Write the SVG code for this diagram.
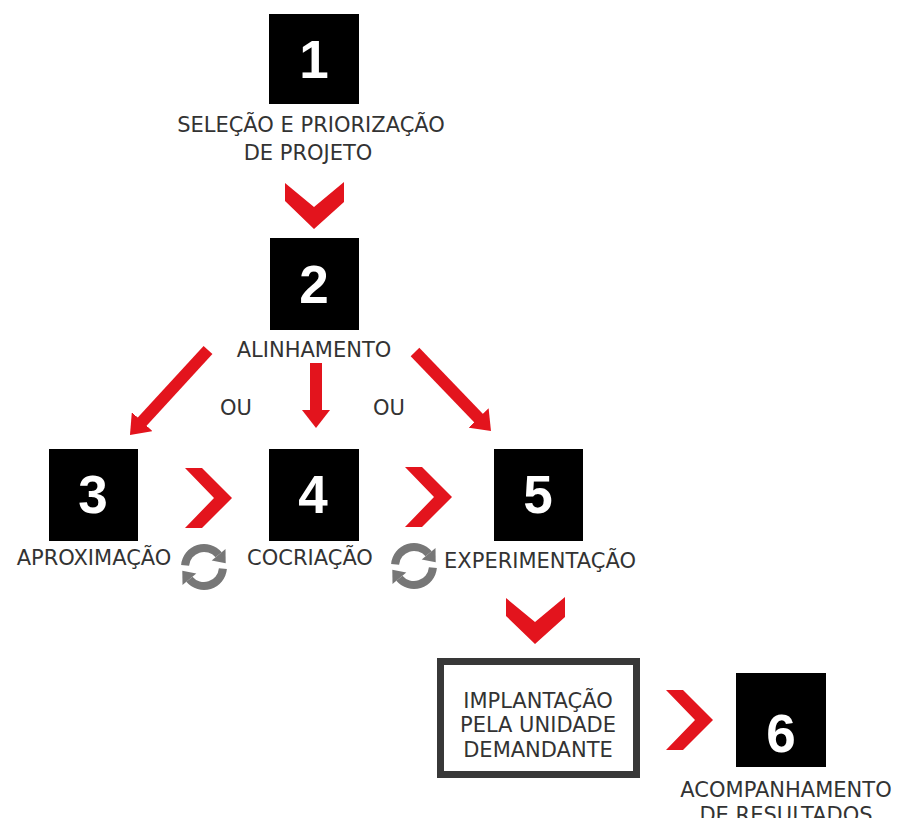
<svg xmlns="http://www.w3.org/2000/svg" xmlns:xlink="http://www.w3.org/1999/xlink" width="899" height="818" viewBox="0 0 899 818">
<style>
.box{fill:#000}
.num{font-family:"Liberation Sans",Arial,sans-serif;font-weight:bold;font-size:53px;fill:#fff;text-anchor:middle}
.lbl{font-family:"DejaVu Sans",Verdana,sans-serif;font-size:21px;fill:#333;text-anchor:middle}
.red{fill:#e3141d}
.shaft{stroke:#e3141d;stroke-width:12;fill:none}
.cyc{stroke:#777;stroke-width:8;fill:none}
.cych{fill:#777}
</style>
<defs>
<polygon id="chevDown" class="red" points="0,1 29,25 59,0 59,20 29,47 0,19"/>
<polygon id="chevRight" class="red" points="0,0 17,0 47,30 17,60 0,60 29,30"/>
<g id="cycle">
<path class="cyc" d="M-18.9,-1.7 A19,19 0 0 1 14.6,-12.2"/>
<polygon class="cych" points="21.5,-18.0 7.7,-6.4 21.7,-3.8"/>
<path class="cyc" d="M18.9,1.7 A19,19 0 0 1 -14.6,12.2"/>
<polygon class="cych" points="-21.5,18.0 -7.7,6.4 -21.7,3.8"/>
</g>
<marker id="ah" markerUnits="userSpaceOnUse" markerWidth="18" markerHeight="28" viewBox="0 0 18 28" refX="2" refY="14" orient="auto">
<path d="M0,0 L18,14 L0,28 Z" fill="#e3141d"/>
</marker>
</defs>
<rect width="899" height="818" fill="#fff"/>

<g id="connectors">
<use xlink:href="#chevDown" href="#chevDown" transform="translate(285,182)"/>
<line class="shaft" x1="208" y1="350" x2="140.8" y2="423.1" marker-end="url(#ah)"/>
<line class="shaft" x1="316" y1="363" x2="316" y2="412" stroke-width="13" marker-end="url(#ah)"/>
<line class="shaft" x1="415" y1="352" x2="479.9" y2="419.5" marker-end="url(#ah)"/>
<use xlink:href="#chevRight" href="#chevRight" transform="translate(185,468)"/>
<use xlink:href="#chevRight" href="#chevRight" transform="translate(405,467)"/>
<use xlink:href="#chevDown" href="#chevDown" transform="translate(506,597)"/>
<use xlink:href="#chevRight" href="#chevRight" transform="translate(666,690)"/>
<use xlink:href="#cycle" href="#cycle" transform="translate(204,567)"/>
<use xlink:href="#cycle" href="#cycle" transform="translate(414,566)"/>
<text class="lbl" x="236" y="415">OU</text>
<text class="lbl" x="389" y="415">OU</text>
</g>

<g id="node1">
<rect class="box" x="269" y="14" width="90" height="90"/>
<text class="num" x="314" y="78">1</text>
<text class="lbl" x="311" y="132">SELEÇÃO E PRIORIZAÇÃO</text>
<text class="lbl" x="308" y="160">DE PROJETO</text>
</g>

<g id="node2">
<rect class="box" x="270" y="238" width="89" height="92"/>
<text class="num" x="314" y="303">2</text>
<text class="lbl" x="314" y="357">ALINHAMENTO</text>
</g>

<g id="node3">
<rect class="box" x="49" y="449" width="89" height="92"/>
<text class="num" x="93" y="513">3</text>
<text class="lbl" x="94" y="565">APROXIMAÇÃO</text>
</g>

<g id="node4">
<rect class="box" x="269" y="449" width="90" height="92"/>
<text class="num" x="313" y="513">4</text>
<text class="lbl" x="310" y="565">COCRIAÇÃO</text>
</g>

<g id="node5">
<rect class="box" x="494" y="449" width="89" height="92"/>
<text class="num" x="538" y="513">5</text>
<text class="lbl" x="540" y="568">EXPERIMENTAÇÃO</text>
</g>

<g id="implantacao">
<rect x="440.5" y="661.5" width="196" height="113" fill="#fff" stroke="#383838" stroke-width="7"/>
<text class="lbl" x="538" y="708">IMPLANTAÇÃO</text>
<text class="lbl" x="538" y="732">PELA UNIDADE</text>
<text class="lbl" x="538" y="757">DEMANDANTE</text>
</g>

<g id="node6">
<rect class="box" x="736" y="673" width="90" height="94"/>
<text class="num" x="781" y="752">6</text>
<text class="lbl" x="786" y="797">ACOMPANHAMENTO</text>
<text class="lbl" x="786" y="822">DE RESULTADOS</text>
</g>
</svg>
